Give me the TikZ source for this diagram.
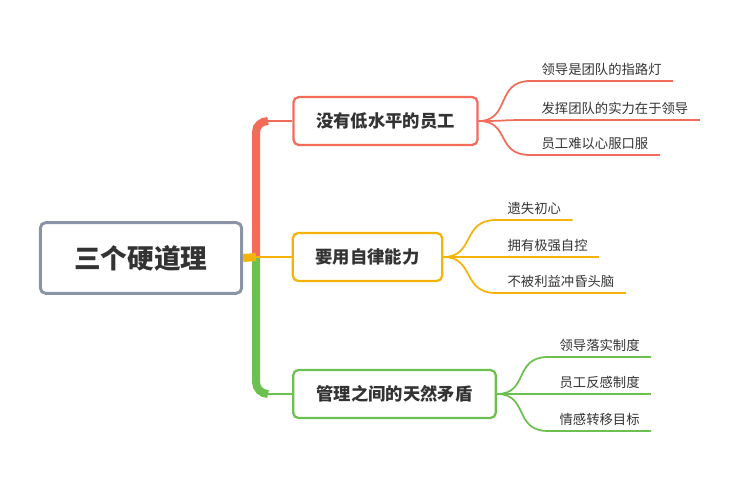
\documentclass[tikz,border=0pt]{standalone}
\usepackage{fontspec}
\newfontfamily\cjk{Noto Sans CJK SC}
\definecolor{cR}{HTML}{F36C5A}
\definecolor{cO}{HTML}{F5B30A}
\definecolor{cG}{HTML}{6CC04F}
\definecolor{cRoot}{HTML}{8A94A6}
\definecolor{tx}{HTML}{333333}
\tikzset{
  root/.style={draw=cRoot,line width=2.2pt,rounded corners=4pt,minimum width=151pt,minimum height=53pt,font=\cjk\fontsize{20}{24}\selectfont\bfseries,text=tx},
  topic/.style={draw=#1,line width=1.7pt,rounded corners=4pt,minimum height=36pt,inner xsep=12pt,font=\cjk\fontsize{13}{15}\selectfont\bfseries,text=tx},
  item/.style={anchor=south west,inner xsep=8.5pt,inner ysep=4pt,font=\cjk\fontsize{10}{12}\selectfont,text=tx},
  conn/.style={draw=#1,line width=1.3pt},
}
\begin{document}
\begin{tikzpicture}[x=0.75pt,y=-0.75pt]
\useasboundingbox (0,0) rectangle (740,499);
\node[root] (r) at (141,258) {三个硬道理};
\node[topic=cR,minimum width=138pt] (a) at (385.5,121) {没有低水平的员工};
\node[topic=cO,minimum width=112pt] (b) at (367.5,257) {要用自律能力};
\node[topic=cG,minimum width=152pt] (c) at (394.5,394) {管理之间的天然矛盾};
\coordinate (hub) at (256,257);
\draw[cR,line width=6pt] (hub) -- (256,132) to[out=90,in=180] (268,121);
\draw[cR,line width=2pt] (266,121) -- (a.west);
\draw[cG,line width=6pt] (hub) -- (256,382) to[out=-90,in=180] (268,394);
\draw[cG,line width=2pt] (266,394) -- (c.west);
\draw[cO,line width=6pt] (r.east) -- (hub);
\draw[cO,line width=2pt] (hub) -- (b.west);
\node[item] (a1) at (530,81) {领导是团队的指路灯};
\node[item] (a2) at (530,120) {发挥团队的实力在于领导};
\node[item] (a3) at (530,155) {员工难以心服口服};
\node[item] (b1) at (496,220) {遗失初心};
\node[item] (b2) at (496,257) {拥有极强自控};
\node[item] (b3) at (496,293) {不被利益冲昏头脑};
\node[item] (c1) at (548,357) {领导落实制度};
\node[item] (c2) at (548,394) {员工反感制度};
\node[item] (c3) at (548,431) {情感转移目标};
\foreach \p/\i/\c in {a/a1/cR,a/a2/cR,a/a3/cR,b/b1/cO,b/b2/cO,b/b3/cO,c/c1/cG,c/c2/cG,c/c3/cG}{
  \draw[conn=\c] (\p.east) .. controls ([xshift=24]\p.east) and ([xshift=-26]\i.south west) .. (\i.south west) -- (\i.south east);
}
\end{tikzpicture}
\end{document}
